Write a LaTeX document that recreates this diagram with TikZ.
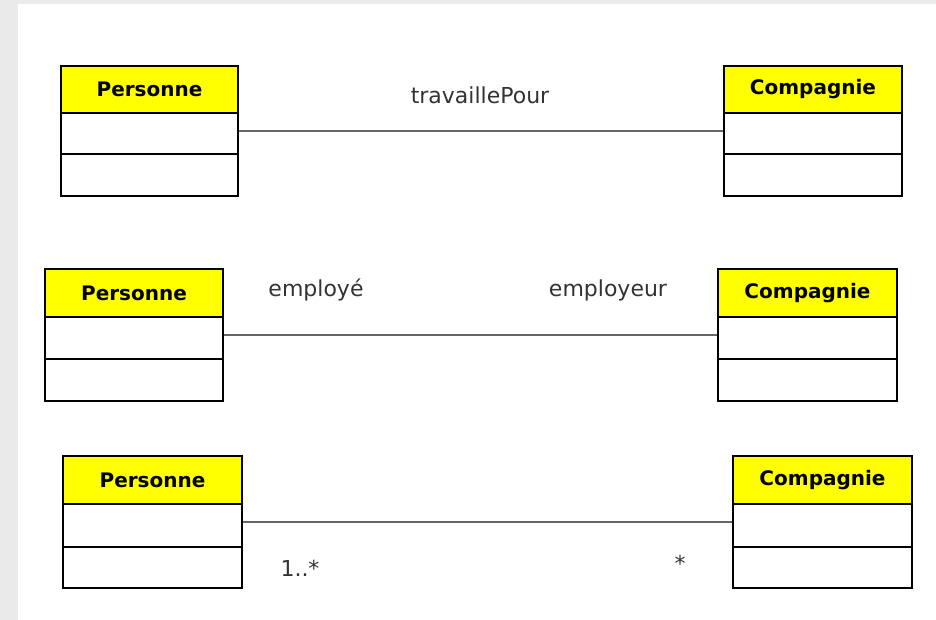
\documentclass[tikz,border=0pt]{standalone}
\usepackage{fontspec}
\setmainfont{DejaVu Sans}
\definecolor{hdrYellow}{RGB}{255,255,0}
\definecolor{bgGray}{RGB}{234,234,234}
\begin{document}
\begin{tikzpicture}[x=1pt,y=-1pt,
  hdr/.style={draw=black,line width=1.6pt,fill=hdrYellow},
  cmp/.style={draw=black,line width=1.6pt,fill=white},
  assoc/.style={draw=black!60,line width=2.6pt},
  hname/.style={font=\fontsize{20}{24}\selectfont\bfseries},
  lbl/.style={font=\fontsize{22}{26}\selectfont,text=black!80}]
\useasboundingbox (0,0) rectangle (936,620);
\fill[bgGray] (0,0) rectangle (936,620);
\fill[white] (18,4) rectangle (936,620);
% class macro: name, x1, x2, ytop, yhdr, ydiv, ybot, text
\newcommand{\umlclass}[8]{%
  \draw[hdr] (#2,#4) rectangle (#3,#5);
  \node[hname] (#1h) at ({(#2+#3)/2},{(#4+#5)/2}) {#8};
  \draw[cmp] (#2,#5) rectangle (#3,#6);
  \draw[cmp] (#2,#6) rectangle (#3,#7);
}
\umlclass{pa}{61}{238}{66}{113}{154}{196}{Personne}
\umlclass{ca}{724}{902}{66}{113}{154}{196}{Compagnie}
\umlclass{pb}{45}{223}{269}{317}{359}{401}{Personne}
\umlclass{cb}{718}{897}{269}{317}{359}{401}{Compagnie}
\umlclass{pc}{63}{242}{456}{504}{547}{588}{Personne}
\umlclass{cc}{733}{912}{456}{504}{547}{588}{Compagnie}
\coordinate (a1) at (239,131); \coordinate (a2) at (723,131);
\draw[assoc] (a1) -- (a2);
\coordinate (b1) at (224,335); \coordinate (b2) at (717,335);
\draw[assoc] (b1) -- (b2);
\coordinate (c1) at (243,522); \coordinate (c2) at (732,522);
\draw[assoc] (c1) -- (c2);
\node[lbl] (t1) at (480,95) {travaillePour};
\node[lbl] (t2) at (316,290) {employé};
\node[lbl] (t3) at (608,290) {employeur};
\node[lbl] (t4) at (300,568) {1..*};
\node[lbl] (t5) at (680,563) {*};
\end{tikzpicture}
\end{document}
